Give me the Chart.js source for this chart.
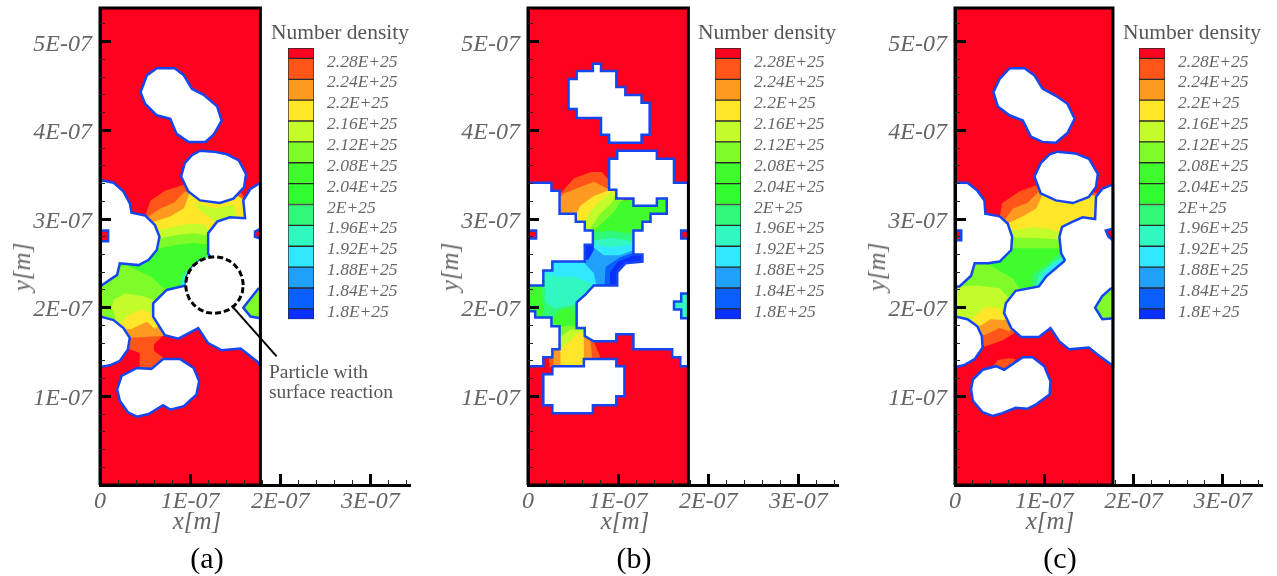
<!DOCTYPE html>
<html>
<head>
<meta charset="utf-8">
<script src="https://cdn.jsdelivr.net/npm/chart.js@4"></script>
<style>
    html, body { margin: 0; background: #fff; overflow: hidden; }
    #page { position: relative; width: 1277px; height: 576px; }
    canvas { position: absolute; top: 0; }
    .txt { position: absolute; white-space: nowrap; font-family: 'Liberation Serif', serif; color: #555; transform: translate(-50%, -50%); }
</style>
</head>
<body>
<div id="page"></div>
<script>
// Axis values are in nm, so 100 on the axis is the 1E-07 tick
const x_ticks = [0, 100, 200, 300];
const x_tick_labels = ['0', '1E-07', '2E-07', '3E-07'];
const x_minor = [20, 40, 60, 80, 120, 140, 160, 180, 220, 240, 260, 280, 320, 340];
const y_ticks = [100, 200, 300, 400, 500];
const y_tick_labels = ['1E-07', '2E-07', '3E-07', '4E-07', '5E-07'];
const y_minor = [20, 40, 60, 80, 120, 140, 160, 180, 220, 240, 260, 280, 320, 340, 360, 380, 420, 440, 460, 480, 520];

// colour bar
const levels = [1.8, 1.84, 1.88, 1.92, 1.96, 2, 2.04, 2.08, 2.12, 2.16, 2.2, 2.24, 2.28];
const level_labels = ['1.8E+25', '1.84E+25', '1.88E+25', '1.92E+25', '1.96E+25', '2E+25', '2.04E+25', '2.08E+25', '2.12E+25', '2.16E+25', '2.2E+25', '2.24E+25', '2.28E+25'];
const bar_edges = [1.78, 1.8, 1.84, 1.88, 1.92, 1.96, 2, 2.04, 2.08, 2.12, 2.16, 2.2, 2.24, 2.28, 2.3];
// bottom to top
const bar_colors = ['#0a30ff', '#0a60ff', '#20a0f8', '#30e8ff', '#30f8c0', '#30f878', '#30fc30', '#40fc2c', '#80fb2a', '#c4fb2a', '#ffe628', '#ff9a20', '#ff5518', '#ff001e'];

// band index -> colour, 0 is the red free stream, 13 the lowest density
const band_colors = bar_colors.slice().reverse();

// Panel (a): contour bands are painted over each other in this order,
// the white particles then cover whatever spills out of the channel
const a_bands = [
    [1, [[91, 338], [72, 332], [56, 321], [51, 306], [45, 280], [30, 260], [0, 226], [0, 188], [20, 170], [33, 153], [44, 149], [44, 130], [58, 130], [70, 144], [60, 151], [60, 159], [72, 170], [100, 200], [150, 280], [170, 300], [165, 318], [155, 332]]],
    [2, [[94, 331], [83, 319], [67, 312], [54, 303], [45, 285], [30, 260], [0, 226], [0, 188], [20, 170], [35, 166], [70, 168], [100, 200], [150, 280], [170, 300], [165, 318], [150, 328]]],
    [3, [[100, 335], [98, 325], [93, 312], [78, 303], [60, 297], [45, 285], [30, 260], [0, 226], [0, 188], [20, 175], [35, 176], [52, 184], [61, 176], [75, 190], [100, 200], [150, 280], [170, 300], [165, 318], [150, 328]]],
    [4, [[106, 319], [126, 312], [148, 316], [152, 302], [130, 295], [120, 303], [111, 310]]],
    [4, [[63, 287], [81, 291], [100, 295], [115, 294], [122, 286], [150, 260], [100, 210], [70, 200], [56, 194], [46, 198], [31, 191], [20, 180], [0, 188], [0, 226], [30, 260], [45, 285]]],
    [5, [[66, 278], [85, 282], [104, 284], [120, 281], [150, 260], [100, 210], [70, 205], [59, 209], [48, 213], [28, 216], [15, 209], [13, 200], [17, 189], [10, 180], [0, 188], [0, 226], [30, 260], [50, 280]]],
    [6, [[66, 267], [85, 271], [104, 273], [120, 271], [130, 260], [100, 220], [70, 222], [57, 235], [28, 248], [20, 245], [30, 260], [50, 275]]],
    [8, [[87, 227], [93, 240], [109, 252], [122, 262], [130, 250], [110, 222]]],
    [9, [[90, 227], [96, 240], [110, 251], [122, 258], [125, 245], [105, 222]]],
    [10, [[92, 228], [98, 240], [111, 250], [123, 256], [120, 235]]]
];
const a_top_particle = [[63, 470], [83, 470], [93, 462], [102, 447], [115, 440], [130, 427], [135, 411], [126, 395], [117, 387], [98, 387], [85, 396], [78, 413], [63, 417], [50, 430], [45, 443], [52, 462]];
const a_upper_particle = [[111, 377], [126, 376], [141, 373], [154, 366], [162, 351], [160, 336], [148, 323], [133, 318], [111, 321], [98, 331], [90, 348], [94, 363], [102, 372]];
const a_left_upper = [[0, 344], [15, 341], [26, 331], [33, 318], [35, 307], [50, 304], [61, 293], [66, 280], [63, 265], [54, 254], [43, 248], [22, 250], [19, 237], [0, 224]];
const a_left_lower = [[0, 190], [15, 186], [26, 177], [33, 166], [31, 153], [22, 140], [11, 135], [0, 133]];
const a_central = [[178, 341], [167, 334], [159, 321], [161, 301], [144, 302], [130, 297], [120, 284], [120, 261], [124, 255], [111, 253], [104, 248], [99, 241], [96, 234], [95, 225], [74, 220], [59, 205], [59, 190], [72, 169], [87, 165], [109, 177], [120, 160], [135, 152], [156, 154], [176, 138], [178, 134]];
const a_bottom_particle = [[19, 108], [24, 123], [41, 132], [57, 131], [70, 142], [89, 142], [104, 132], [110, 117], [107, 102], [93, 89], [78, 85], [70, 90], [54, 80], [41, 77], [31, 82], [22, 95]];
const a_patches = [
    [0, [[0, 287], [9, 287], [9, 275], [0, 275]]],
    [0, [[178, 289], [172, 286], [172, 280], [178, 278]]],
    [5, [[176, 222], [159, 200], [167, 190], [178, 188], [178, 222]]]
];
const a_reaction_circle = [[159, 225.5], [157.9, 233.8], [154.7, 241.5], [149.6, 248.1], [143, 253.2], [135.3, 256.4], [127, 257.5], [118.7, 256.4], [111, 253.2], [104.4, 248.1], [99.3, 241.5], [96.1, 233.8], [95, 225.5], [96.1, 217.2], [99.3, 209.5], [104.4, 202.9], [111, 197.8], [118.7, 194.6], [127, 193.5], [135.3, 194.6], [143, 197.8], [149.6, 202.9], [154.7, 209.5], [157.9, 217.2]];
const a_leader = [[148, 200], [196, 145]];

// Panel (b)
const b_bands = [
    [1, [[38, 331], [51, 346], [70, 353], [82, 353], [88, 346], [95, 345], [120, 300], [125, 240], [80, 170], [74, 160], [80, 145], [70, 130], [30, 130], [24, 133], [23, 143], [15, 160], [5, 185], [0, 190], [0, 230], [10, 233], [50, 270], [30, 320]]],
    [2, [[40, 329], [58, 336], [73, 342], [89, 334], [95, 340], [120, 300], [125, 240], [80, 170], [69, 165], [71, 145], [68, 130], [30, 130], [28, 135], [28, 148], [15, 160], [5, 185], [0, 190], [0, 230], [10, 233], [50, 270], [30, 320]]],
    [3, [[54, 306], [58, 315], [73, 326], [88, 332], [95, 335], [120, 300], [125, 240], [80, 172], [62, 167], [62, 143], [60, 130], [36, 130], [36, 150], [20, 165], [5, 185], [0, 190], [0, 230], [10, 233], [50, 270], [45, 300]]],
    [4, [[64, 297], [69, 309], [84, 324], [93, 331], [120, 300], [125, 240], [80, 175], [62, 169], [58, 173], [45, 161], [36, 154], [20, 170], [5, 185], [0, 190], [0, 230], [10, 233], [50, 270], [60, 290]]],
    [5, [[73, 295], [80, 306], [93, 318], [97, 327], [120, 300], [125, 240], [80, 178], [60, 175], [47, 175], [36, 167], [20, 175], [5, 185], [0, 190], [0, 230], [10, 233], [50, 270], [65, 285]]],
    [6, [[73, 287], [84, 297], [97, 310], [103, 321], [120, 322], [160, 325], [160, 300], [130, 285], [125, 240], [80, 180], [56, 178], [45, 180], [36, 178], [20, 180], [5, 185], [0, 190], [0, 230], [10, 233], [50, 270], [65, 280]]],
    [8, [[73, 285], [93, 287], [117, 283], [125, 270], [125, 240], [80, 185], [60, 190], [52, 192], [49, 200], [34, 197], [28, 188], [15, 186], [17, 200], [15, 225], [30, 240], [50, 270], [65, 280]]],
    [9, [[73, 276], [93, 279], [117, 275], [125, 260], [120, 240], [80, 200], [52, 204], [30, 199], [19, 207], [19, 225], [17, 242], [30, 245], [50, 270], [65, 275]]],
    [10, [[73, 271], [93, 268], [117, 272], [127, 262], [120, 240], [80, 215], [73, 226], [52, 235], [34, 235], [17, 240], [20, 250], [50, 265], [65, 270]]],
    [11, [[73, 268], [84, 259], [102, 259], [117, 265], [127, 262], [125, 240], [80, 218], [76, 225], [73, 239], [61, 252], [61, 265]]],
    [12, [[117, 262], [102, 257], [86, 246], [85, 225], [100, 223], [100, 244], [119, 252]]],
    [13, [[117, 259], [126, 259], [126, 252], [108, 250], [99, 242], [99, 224], [91, 224], [91, 240], [100, 252]]],
    [13, [[61, 271], [73, 271], [73, 265], [67, 254], [61, 254]]]
];
const b_top_particle = [[54, 467], [72, 467], [72, 475], [81, 475], [81, 467], [98, 467], [98, 449], [108, 449], [108, 440], [126, 440], [126, 431], [135, 431], [135, 395], [126, 395], [126, 386], [90, 386], [90, 395], [81, 395], [81, 414], [54, 414], [54, 424], [45, 424], [45, 458], [54, 458]];
const b_left_upper = [[0, 341], [26, 341], [26, 332], [35, 332], [35, 306], [53, 306], [53, 297], [63, 297], [63, 287], [72, 287], [72, 271], [63, 271], [63, 252], [27, 252], [27, 242], [17, 242], [17, 225], [0, 225]];
const b_left_lower = [[0, 196], [8, 196], [8, 189], [26, 189], [26, 179], [35, 179], [35, 153], [27, 153], [27, 144], [17, 144], [17, 134], [0, 134]];
const b_central = [[178, 341], [162, 341], [162, 368], [143, 368], [143, 377], [99, 377], [99, 368], [90, 368], [90, 333], [98, 333], [98, 323], [117, 323], [117, 315], [143, 315], [143, 323], [154, 323], [154, 306], [136, 306], [136, 297], [127, 297], [127, 287], [117, 287], [117, 260], [127, 260], [127, 252], [108, 250], [99, 240], [99, 225], [73, 225], [64, 215], [54, 206], [54, 177], [63, 177], [63, 168], [73, 162], [98, 162], [98, 170], [117, 170], [117, 153], [160, 153], [160, 144], [169, 144], [169, 134], [178, 134]];
const b_bottom_particle = [[27, 134], [62, 134], [62, 142], [98, 142], [98, 134], [107, 134], [107, 100], [98, 100], [98, 90], [72, 90], [72, 81], [27, 81], [27, 90], [17, 90], [17, 125], [27, 125]];
const b_patches = [
    [0, [[0, 287], [9, 287], [9, 278], [0, 278]]],
    [0, [[178, 287], [170, 287], [170, 278], [178, 278]]],
    [9, [[178, 216], [170, 216], [170, 207], [162, 207], [162, 198], [170, 198], [170, 188], [178, 188]]]
];

// Panel (c)
const c_bands = [
    [1, [[91, 338], [72, 331], [53, 318], [50, 302], [45, 280], [30, 260], [5, 230], [0, 226], [0, 188], [20, 175], [33, 156], [53, 163], [66, 171], [80, 190], [120, 250], [155, 300], [160, 330], [150, 330]]],
    [1, [[42, 133], [48, 141], [60, 143], [68, 142], [60, 130]]],
    [2, [[94, 331], [81, 318], [65, 312], [57, 301], [45, 280], [30, 260], [0, 226], [0, 188], [20, 172], [33, 169], [50, 177], [61, 173], [80, 190], [120, 250], [155, 300], [160, 326], [150, 326], [100, 335]]],
    [3, [[100, 335], [97, 325], [91, 312], [76, 303], [59, 295], [45, 280], [30, 260], [0, 226], [0, 188], [20, 178], [29, 180], [40, 187], [55, 186], [70, 190], [120, 250], [155, 300], [160, 326]]],
    [4, [[63, 287], [87, 291], [106, 289], [119, 284], [140, 260], [100, 220], [60, 200], [55, 192], [51, 199], [35, 201], [24, 192], [15, 182], [0, 188], [0, 226], [30, 260], [50, 280]]],
    [5, [[64, 279], [87, 279], [117, 277], [135, 260], [100, 220], [65, 215], [59, 212], [50, 222], [25, 225], [1, 224], [0, 226], [30, 260], [50, 275]]],
    [6, [[63, 267], [87, 267], [117, 267], [130, 255], [100, 215], [72, 222], [65, 233], [35, 250], [20, 248], [30, 262], [50, 268]]],
    [8, [[87, 224], [87, 237], [102, 248], [119, 263], [130, 250], [105, 220]]],
    [9, [[91, 224], [94, 237], [109, 250], [121, 257], [125, 245], [105, 220]]],
    [10, [[94, 224], [100, 239], [115, 252], [122, 255], [120, 235], [105, 220]]]
];
const c_top_particle = [[61, 470], [78, 470], [89, 462], [98, 447], [113, 439], [126, 430], [134, 413], [126, 397], [113, 386], [98, 387], [85, 393], [76, 411], [61, 417], [48, 427], [43, 443], [50, 458]];
const c_upper_particle = [[115, 376], [135, 374], [150, 368], [160, 351], [158, 336], [150, 325], [132, 318], [113, 321], [96, 329], [89, 348], [96, 363], [106, 373]];
const c_left_upper = [[0, 341], [14, 341], [25, 332], [33, 321], [34, 306], [50, 303], [59, 295], [64, 280], [63, 265], [50, 252], [37, 250], [22, 250], [18, 236], [5, 224], [0, 224]];
const c_left_lower = [[0, 190], [14, 187], [25, 179], [30, 168], [31, 155], [22, 142], [10, 135], [0, 133]];
const c_central = [[177, 339], [165, 334], [158, 325], [157, 300], [143, 302], [132, 297], [120, 291], [117, 280], [119, 261], [123, 254], [122, 252], [102, 235], [94, 224], [68, 219], [57, 205], [55, 194], [63, 177], [74, 167], [94, 167], [107, 177], [117, 162], [128, 153], [150, 155], [160, 147], [175, 136], [177, 134]];
const c_bottom_particle = [[18, 108], [20, 119], [31, 130], [46, 134], [55, 130], [76, 144], [87, 144], [100, 134], [107, 117], [106, 102], [91, 91], [81, 86], [68, 87], [53, 81], [42, 78], [31, 82], [20, 95]];
const c_patches = [
    [0, [[0, 287], [7, 287], [7, 276], [0, 276]]],
    [0, [[177, 289], [169, 287], [172, 280], [177, 276]]],
    [5, [[175, 222], [165, 213], [157, 200], [165, 187], [177, 188], [177, 222]]]
];

// wall of the periodic cell, per panel
const a_domain = [[0, 0], [178, 0], [178, 538], [0, 538]];
const b_domain = [[0, 0], [178, 0], [178, 538], [0, 538]];
const c_domain = [[0, 0], [177, 0], [177, 538], [0, 538]];

const color_blue = '#1446f0';
const color_text = '#666';
const page = document.getElementById('page');

function toPoints(polygon) {
    const pts = polygon.map(p => ({ x: p[0], y: p[1] }));
    pts.push(pts[0]); // close the outline
    return pts;
}

function filled(polygon, color, border) {
    return {
        data: toPoints(polygon),
        showLine: true,
        pointRadius: 0,
        fill: 'shape',
        backgroundColor: color,
        borderColor: border || color,
        borderWidth: border ? 2.5 : 0,
    };
}

function zeroPadding(scale) {
    scale.paddingTop = scale.paddingBottom = scale.paddingLeft = scale.paddingRight = 0;
}

function makeCanvas(left, width, height) {
    const canvas = document.createElement('canvas');
    canvas.width = width;
    canvas.height = height;
    canvas.style.left = left + 'px';
    page.appendChild(canvas);
    return canvas;
}

function addText(text, x, y, size, extra) {
    const el = document.createElement('span');
    el.className = 'txt';
    el.textContent = text;
    el.style.left = x + 'px';
    el.style.top = y + 'px';
    el.style.fontSize = size + 'px';
    if (extra) Object.assign(el.style, extra);
    page.appendChild(el);
}

// ticks point inwards over the fill, hence the negative lengths and z: 1
function axisOptions(position, ticks, labels, padding, size, offset) {
    return {
        type: 'linear',
        position: position,
        weight: 1,
        afterBuildTicks: s => { s.ticks = ticks.map(v => ({ value: v })); },
        afterFit: s => {
            if (position === 'left') s.width = size; else s.height = size;
            zeroPadding(s);
        },
        border: { color: '#000', width: 3, z: 1 },
        grid: { drawOnChartArea: false, tickLength: -11, tickWidth: 3, tickColor: '#000', z: 1 },
        ticks: {
            autoSkip: false,
            maxRotation: 0,
            padding: padding,
            labelOffset: offset,
            color: color_text,
            font: { family: 'Liberation Serif', style: 'italic', size: 24 },
            callback: (value, index) => labels[index],
        },
    };
}

function minorAxisOptions(position, ticks) {
    return {
        type: 'linear',
        position: position,
        weight: 0,
        afterBuildTicks: s => { s.ticks = ticks.map(v => ({ value: v })); },
        afterFit: s => {
            if (position === 'left') s.width = 0; else s.height = 0;
            zeroPadding(s);
        },
        border: { display: false },
        grid: { drawOnChartArea: false, tickLength: -5, tickWidth: 1, tickColor: '#222', z: 1 },
        ticks: { display: false },
    };
}

function drawPanel(panel) {
    const canvas = makeCanvas(panel.left - 100, 100 + panel.width + 10, 520);
    const datasets = [];
    // bottom layer first
    datasets.push(filled(panel.domain, band_colors[0]));
    panel.bands.forEach(b => datasets.push(filled(b[1], band_colors[b[0]])));
    panel.holes.forEach(h => datasets.push(filled(h, '#fff', color_blue)));
    panel.patches.forEach(p => datasets.push(filled(p[1], band_colors[p[0]], color_blue)));
    (panel.extra || []).forEach(d => datasets.push(d));
    // cell frame goes on top of everything
    datasets.push({
        data: toPoints(panel.domain),
        showLine: true,
        pointRadius: 0,
        fill: false,
        borderColor: '#000',
        borderWidth: 3,
        clip: 5,
    });
    new Chart(canvas, {
        type: 'scatter',
        data: { datasets: datasets.reverse() },
        options: {
            responsive: false,
            animation: false,
            layout: { padding: { top: 8, right: 10 } },
            plugins: { legend: { display: false }, tooltip: { enabled: false } },
            scales: {
                x: Object.assign(axisOptions('bottom', x_ticks, x_tick_labels, 13, 35, 0), { min: 0, max: 344 }),
                y: Object.assign(axisOptions('left', y_ticks, y_tick_labels, 19, 100, 2.5), { min: 0, max: 538 }),
                x_minor: Object.assign(minorAxisOptions('bottom', x_minor), { min: 0, max: 344 }),
                y_minor: Object.assign(minorAxisOptions('left', y_minor), { min: 0, max: 538 }),
            },
        },
    });
}

function drawColorBar(left) {
    const canvas = makeCanvas(left, 150, 320);
    const datasets = bar_colors.map((color, i) => ({
        data: [[bar_edges[i], bar_edges[i + 1]]],
        backgroundColor: color,
        borderColor: '#2a2a2a',
        borderWidth: 1,
        borderSkipped: false,
        barPercentage: 1,
        categoryPercentage: 1,
    }));
    new Chart(canvas, {
        type: 'bar',
        data: { labels: [''], datasets: datasets },
        options: {
            responsive: false,
            animation: false,
            layout: { padding: { left: 18, top: 48, bottom: 0.7 } },
            plugins: { legend: { display: false }, tooltip: { enabled: false } },
            scales: {
                x: { display: false, stacked: true }, // one column, not 14 side by side
                y: {
                    position: 'right',
                    stacked: false,
                    min: 1.78,
                    max: 2.3,
                    afterBuildTicks: s => { s.ticks = levels.map(v => ({ value: v })); },
                    afterFit: s => { s.width = 106; zeroPadding(s); },
                    border: { display: false },
                    grid: { display: false, drawTicks: false },
                    ticks: {
                        autoSkip: false,
                        padding: 13,
                        labelOffset: 3.5,
                        color: color_text,
                        font: { family: 'Liberation Serif', style: 'italic', size: 17.5 },
                        callback: (value, index) => level_labels[index],
                    },
                },
            },
        },
    });
}

const a_extra = [
    filled(a_reaction_circle, '#fff', '#000'),
    { data: a_leader.map(p => ({ x: p[0], y: p[1] })), showLine: true, pointRadius: 0, fill: false, borderColor: '#000', borderWidth: 2 },
];
a_extra[0].borderWidth = 3;
a_extra[0].borderDash = [6, 3];

drawPanel({ left: 100, width: 310, domain: a_domain, bands: a_bands, patches: a_patches, extra: a_extra,
    holes: [a_top_particle, a_upper_particle, a_left_upper, a_left_lower, a_central, a_bottom_particle] });
drawPanel({ left: 528, width: 310, domain: b_domain, bands: b_bands, patches: b_patches,
    holes: [b_top_particle, b_left_upper, b_left_lower, b_central, b_bottom_particle] });
drawPanel({ left: 955, width: 307, domain: c_domain, bands: c_bands, patches: c_patches,
    holes: [c_top_particle, c_upper_particle, c_left_upper, c_left_lower, c_central, c_bottom_particle] });

drawColorBar(270);
drawColorBar(697);
drawColorBar(1121);

// panel captions and axis names sit off-centre in the original, so they are placed by hand
[[197, 22, 340, 207, '(a)'], [625, 450, 767, 634, '(b)'], [1050, 877, 1192, 1060, '(c)']].forEach(t => {
    addText('x[m]', t[0], 521, 25, { fontStyle: 'italic', color: color_text });
    addText('y[m]', t[1], 267, 25, { fontStyle: 'italic', color: color_text, transform: 'translate(-50%, -50%) rotate(-90deg)' });
    addText('Number density', t[2], 32, 21.5);
    addText(t[4], t[3], 558, 30, { color: '#000' });
});
addText('Particle with', 321, 372, 19.5, { left: '269px', transform: 'translate(0, -50%)' });
addText('surface reaction', 331, 392, 19.5, { left: '269px', transform: 'translate(0, -50%)' });
</script>
</body>
</html>
